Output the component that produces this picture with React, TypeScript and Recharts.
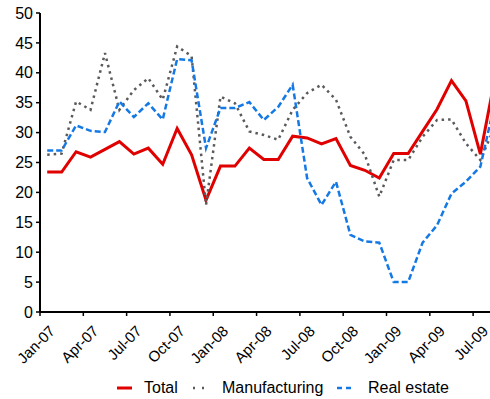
import React from 'react';
import { LineChart, Line, XAxis, YAxis, Legend } from 'recharts';

const months = [
  'Jan-07', 'Feb-07', 'Mar-07', 'Apr-07', 'May-07', 'Jun-07', 'Jul-07', 'Aug-07', 'Sep-07', 'Oct-07', 'Nov-07', 'Dec-07',
  'Jan-08', 'Feb-08', 'Mar-08', 'Apr-08', 'May-08', 'Jun-08', 'Jul-08', 'Aug-08', 'Sep-08', 'Oct-08', 'Nov-08', 'Dec-08',
  'Jan-09', 'Feb-09', 'Mar-09', 'Apr-09', 'May-09', 'Jun-09', 'Jul-09', 'Aug-09',
];

const total = [
  23.4, 23.4, 26.8, 25.9, 27.2, 28.5, 26.4, 27.4, 24.7, 30.7, 26.3, 18.7,
  24.4, 24.4, 27.4, 25.5, 25.5, 29.4, 29.1, 28.1, 29.0, 24.5, 23.7, 22.4,
  26.5, 26.5, 30.2, 33.9, 38.7, 35.3, 26.4, 39.0,
];

const manufacturing = [
  26.3, 26.5, 35.2, 33.8, 43.3, 33.8, 37.1, 39.1, 35.5, 44.4, 42.8, 17.9,
  36.0, 34.9, 30.2, 29.6, 28.8, 33.8, 36.6, 38.0, 35.5, 29.3, 26.3, 19.3,
  25.4, 25.4, 29.3, 32.1, 32.2, 28.2, 25.4, 31.0,
];

const realEstate = [
  27.0, 27.0, 31.2, 30.3, 30.1, 35.2, 32.6, 34.9, 32.2, 42.3, 42.1, 27.4,
  34.1, 34.1, 35.1, 32.1, 34.3, 38.0, 22.4, 17.9, 21.8, 12.9, 11.8, 11.6,
  5.0, 5.0, 11.6, 14.5, 19.8, 21.8, 24.3, 35.0,
];

const tickLabels = ['Jan-07', 'Apr-07', 'Jul-07', 'Oct-07', 'Jan-08', 'Apr-08', 'Jul-08', 'Oct-08', 'Jan-09', 'Apr-09', 'Jul-09'];
const yTicks = [0, 5, 10, 15, 20, 25, 30, 35, 40, 45, 50];

const seriesInfo = [
  { key: 'total', name: 'Total', color: '#E00000', width: 3, dash: undefined as string | undefined },
  { key: 'manufacturing', name: 'Manufacturing', color: '#5A5A5A', width: 2.5, dash: '2.5 4' },
  { key: 'realEstate', name: 'Real estate', color: '#1479E4', width: 2.5, dash: '6 3' },
];

const data = months.map((m, i) => ({
  idx: i,
  month: m,
  total: total[i],
  manufacturing: manufacturing[i],
  realEstate: realEstate[i],
}));

// x ticks fall on the boundaries between months (every quarter)
const xTicks = tickLabels.map((_, k) => k * 3 - 0.5);

const FONT = '"Liberation Sans", Arial, sans-serif';

const XTick = (props: any) => {
  const { x, y, payload } = props;
  const label = tickLabels[Math.round((payload.value + 0.5) / 3)];
  return (
    <g transform={`translate(${x + 16},${y + 16})`}>
      <text transform="rotate(-45)" textAnchor="end" fontFamily={FONT} fontSize={15} fill="#000">
        {label}
      </text>
    </g>
  );
};

const legendIconX = [117, 190, 337];
const legendTextX = [144, 222, 368];

const LegendContent = () => (
  <div style={{ position: 'relative', width: 490, height: 24, fontFamily: FONT, fontSize: 16, color: '#000' }}>
    {seriesInfo.map((s, i) => (
      <React.Fragment key={s.key}>
        <svg
          width={16}
          height={10}
          style={{ position: 'absolute', left: legendIconX[i], top: 8 }}
        >
          {s.key === 'manufacturing' ? (
            <line x1={3} y1={5} x2={15} y2={5} stroke={s.color} strokeWidth={s.width} strokeDasharray="2 7" />
          ) : s.key === 'realEstate' ? (
            <line x1={0} y1={5} x2={15} y2={5} stroke={s.color} strokeWidth={s.width} strokeDasharray="5 4" />
          ) : (
            <line x1={0} y1={5} x2={15} y2={5} stroke={s.color} strokeWidth={s.width} />
          )}
        </svg>
        <span style={{ position: 'absolute', left: legendTextX[i], top: 3, lineHeight: '20px', whiteSpace: 'nowrap' }}>
          {s.name}
        </span>
      </React.Fragment>
    ))}
  </div>
);

export default function App() {
  return (
    <div style={{ position: 'absolute', left: 0, top: 0, width: 490, height: 399, overflow: 'hidden', background: '#fff' }}>
      <LineChart
        width={503}
        height={399}
        data={data}
        margin={{ top: 13, right: 1, bottom: 0, left: 0 }}
      >
        <XAxis
          dataKey="idx"
          type="number"
          domain={[-0.5, 31.5]}
          ticks={xTicks}
          interval={0}
          height={63}
          axisLine={{ stroke: '#000', strokeWidth: 2 }}
          tickLine={{ stroke: '#000', strokeWidth: 1.5 }}
          tickSize={4}
          tickMargin={0}
          tick={<XTick />}
          allowDataOverflow
        />
        <YAxis
          type="number"
          domain={[0, 50]}
          ticks={yTicks}
          interval={0}
          width={40}
          axisLine={{ stroke: '#000', strokeWidth: 2 }}
          tickLine={{ stroke: '#000', strokeWidth: 1.5 }}
          tickSize={4}
          tickMargin={3}
          tick={{ fill: '#000', fontSize: 16, fontFamily: FONT }}
        />
        <Legend verticalAlign="bottom" height={24} content={<LegendContent />} wrapperStyle={{ left: 0, width: 490 }} />
        {seriesInfo.map((s) => (
          <Line
            key={s.key}
            type="linear"
            dataKey={s.key}
            name={s.name}
            stroke={s.color}
            strokeWidth={s.width}
            strokeDasharray={s.dash}
            dot={false}
            activeDot={false}
            isAnimationActive={false}
          />
        ))}
      </LineChart>
    </div>
  );
}
